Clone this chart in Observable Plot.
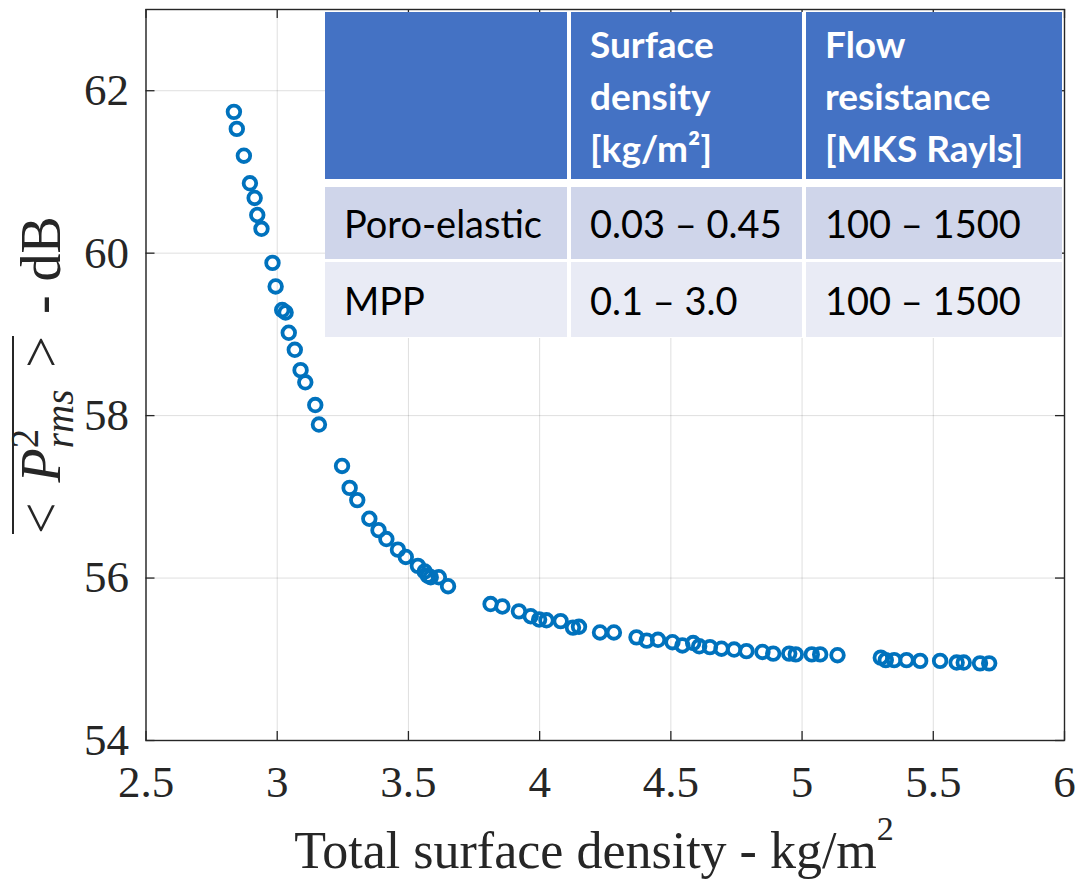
<!DOCTYPE html>
<html><head><meta charset="utf-8">
<script src="https://cdn.jsdelivr.net/npm/d3@7"></script>
<script src="https://cdn.jsdelivr.net/npm/@observablehq/plot@0.6"></script>
<style>
body{margin:0;background:#fff;}
#wrap{position:relative;width:1077px;height:884px;overflow:hidden;background:#fff;}
#tbl{position:absolute;left:325px;top:12px;width:737px;height:326px;background:#fff;font-family:Lato,"Open Sans",sans-serif;}
.cell{position:absolute;box-sizing:border-box;padding-left:19px;display:flex;flex-direction:column;justify-content:center;font-size:38px;color:#000;line-height:52px;white-space:nowrap;}
.hdr{background:#4472C4;color:#fff;font-weight:bold;font-size:37px;}
.r1{background:#CFD5EA;}
.r2{background:#E9EBF5;}
</style></head>
<body><div id="wrap"><div id="chart"></div><div id="tbl"></div></div>
<script>
// ---- data ----
const surfaceDensity = [2.835,2.846,2.873,2.896,2.914,2.924,2.940,2.982,2.994,3.019,3.032,3.044,3.067,3.089,3.107,3.145,3.159,3.247,3.276,3.305,3.351,3.386,3.416,3.460,3.490,3.536,3.562,3.574,3.585,3.616,3.651,3.813,3.858,3.921,3.966,3.998,4.026,4.080,4.127,4.150,4.230,4.283,4.369,4.408,4.451,4.506,4.544,4.585,4.608,4.649,4.693,4.741,4.788,4.849,4.890,4.951,4.976,5.037,5.069,5.135,5.300,5.319,5.351,5.398,5.450,5.526,5.589,5.616,5.678,5.713];
const pressureDb = [61.74,61.53,61.20,60.86,60.68,60.47,60.30,59.88,59.59,59.30,59.27,59.02,58.81,58.56,58.41,58.13,57.89,57.38,57.11,56.96,56.73,56.59,56.48,56.35,56.26,56.15,56.08,56.03,56.01,56.01,55.90,55.68,55.65,55.59,55.53,55.49,55.48,55.47,55.39,55.40,55.33,55.33,55.27,55.23,55.24,55.21,55.17,55.20,55.16,55.15,55.13,55.12,55.10,55.09,55.07,55.07,55.06,55.06,55.06,55.05,55.02,54.99,54.99,54.99,54.98,54.98,54.96,54.96,54.95,54.95];
const xTicks = [2.5,3,3.5,4,4.5,5,5.5,6];
const xTickLabels = ["2.5","3","3.5","4","4.5","5","5.5","6"];
const yTicks = [54,56,58,60,62];
const yTickLabels = ["54","56","58","60","62"];
const xTitle = "Total surface density - kg/m";
const xTitleSup = "2";
const tableHeader = [[], ["Surface","density","[kg/m²]"], ["Flow","resistance","[MKS Rayls]"]];
const tableRowNames = ["Poro-elastic","MPP"];
const tableSurfaceDensity = ["0.03 – 0.45","0.1 – 3.0"];
const tableFlowResistance = ["100 – 1500","100 – 1500"];

// ---- chart ----
const points = surfaceDensity.map((x,i)=>({x, y: pressureDb[i]}));
const xDomain=[2.5,6], yDomain=[54,63];
const W=1077,H=884, mL=145.5, mR=13, mT=9, mB=144;
const tickLen = 9;
const dxTick = tickLen/(W-mL-mR)*(xDomain[1]-xDomain[0]);
const dyTick = tickLen/(H-mT-mB)*(yDomain[1]-yDomain[0]);
const axisColor = "#262626";

const plot = Plot.plot({
  width:W, height:H, marginLeft:mL, marginRight:mR, marginTop:mT, marginBottom:mB,
  x:{domain:xDomain}, y:{domain:yDomain},
  style:{fontFamily:"'Liberation Serif','Times New Roman',serif", color:axisColor, background:"white"},
  marks:[
    Plot.gridX(xTicks,{stroke:"#000", strokeOpacity:0.13, strokeWidth:1}),
    Plot.gridY(yTicks,{stroke:"#000", strokeOpacity:0.13, strokeWidth:1}),
    Plot.dot(points,{x:"x",y:"y",r:6.3,stroke:"#0072BD",strokeWidth:3.8,fill:"none"}),
    Plot.ruleX(xTicks,{x:d=>d, y1:yDomain[0], y2:yDomain[0]+dyTick, stroke:axisColor, strokeWidth:1.3}),
    Plot.ruleX(xTicks,{x:d=>d, y1:yDomain[1], y2:yDomain[1]-dyTick, stroke:axisColor, strokeWidth:1.3}),
    Plot.ruleY(yTicks,{y:d=>d, x1:xDomain[0], x2:xDomain[0]+dxTick, stroke:axisColor, strokeWidth:1.3}),
    Plot.ruleY(yTicks,{y:d=>d, x1:xDomain[1], x2:xDomain[1]-dxTick, stroke:axisColor, strokeWidth:1.3}),
    Plot.frame({stroke:axisColor, strokeWidth:1.4}),
    Plot.axisX(xTicks,{tickSize:0, tickPadding:25, tickFormat:d=>xTickLabels[xTicks.indexOf(d)], fontSize:45, label:null}),
    Plot.axisY(yTicks,{tickSize:0, tickPadding:17, tickFormat:d=>yTickLabels[yTicks.indexOf(d)], fontSize:45, label:null})
  ]
});
document.getElementById("chart").appendChild(plot);

const svg = d3.select(plot);
const serif = "'Liberation Serif','Times New Roman',serif";
// x title
const xt = svg.append("text").attr("x", 594).attr("y", 868)
  .attr("text-anchor","middle").attr("font-family",serif).attr("font-size",52).attr("fill",axisColor);
xt.append("tspan").text(xTitle);
xt.append("tspan").attr("font-size",34).attr("dy",-28).text(xTitleSup);

// y title: overline{< P^2_{rms} >} - dB
const F = 56;
const g = svg.append("g").attr("transform","translate(60,375) rotate(-90)")
  .attr("font-family",serif).attr("fill",axisColor);
const t = g.append("text").attr("x",0).attr("y",0).attr("font-size",F).attr("text-anchor","middle");
const lt = t.append("tspan").text("<");
t.append("tspan").attr("dx",20).attr("font-style","italic").text("P");
t.append("tspan").attr("font-size",39).attr("dy",-22).text("2");
t.append("tspan").attr("font-size",39).attr("font-style","italic").attr("dx",-19.5).attr("dy",35).text("rms");
const gt = t.append("tspan").attr("font-size",F).attr("dx",22).attr("dy",-13).text(">");
t.append("tspan").attr("dx",22).text("-");
t.append("tspan").attr("dx",14).text("dB");
const bl = lt.node().getBBox();
const bg = gt.node().getBBox();
g.append("line").attr("x1", bl.x).attr("x2", bg.x + bg.width)
  .attr("y1",-47).attr("y2",-47).attr("stroke",axisColor).attr("stroke-width",2);

// ---- table ----
const tbl = document.getElementById("tbl");
const colX = [[0,242],[246,477],[481,737]];
const rowY = [[0,167],[175,247],[250,325]];
function cell(col,row,cls,lines){
  const d = document.createElement("div");
  d.className = "cell " + cls;
  d.style.left = colX[col][0]+"px"; d.style.width = (colX[col][1]-colX[col][0])+"px";
  d.style.top = rowY[row][0]+"px"; d.style.height = (rowY[row][1]-rowY[row][0])+"px";
  lines.forEach(s0=>{const s=document.createElement("div"); s.textContent=s0; d.appendChild(s);});
  tbl.appendChild(d);
}
tableHeader.forEach((lines,c)=>cell(c,0,"hdr",lines));
tableRowNames.forEach((name,r)=>{
  const cls = r===0 ? "r1" : "r2";
  cell(0,r+1,cls,[name]);
  cell(1,r+1,cls,[tableSurfaceDensity[r]]);
  cell(2,r+1,cls,[tableFlowResistance[r]]);
});
</script>
</body></html>
